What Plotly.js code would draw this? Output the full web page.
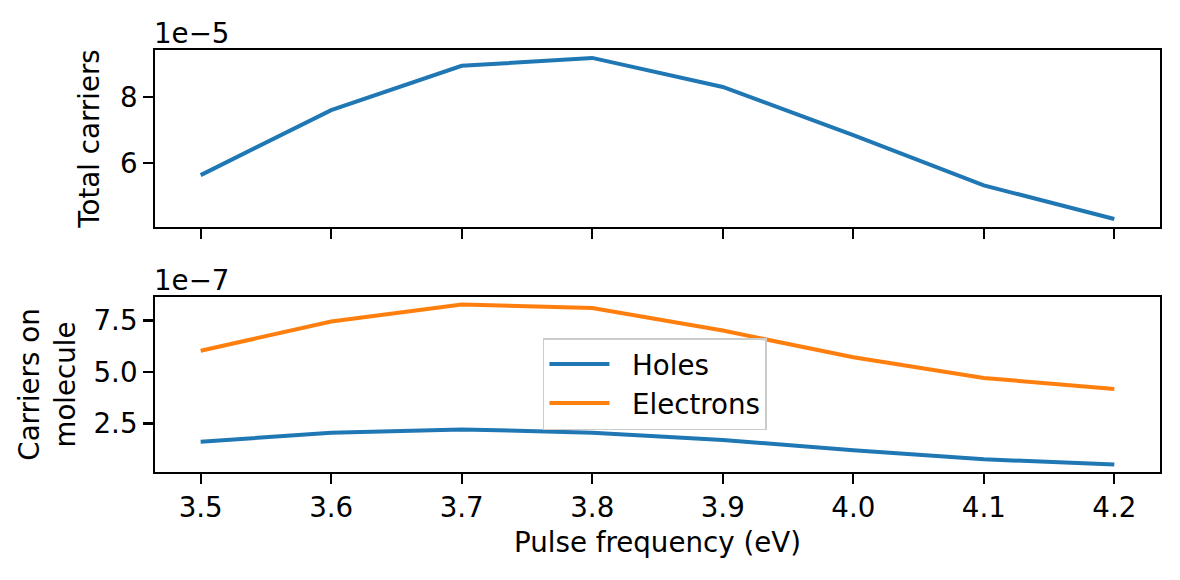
<!DOCTYPE html>
<html>
<head>
<meta charset="utf-8">
<script src="https://cdn.plot.ly/plotly-3.0.1.min.js"></script>
<style>html,body{margin:0;padding:0;background:#fff;}#chart{width:1180px;height:580px;}</style>
</head>
<body>
<div id="chart"></div>
<script>
// Pulse frequency (eV)
const frequency = [3.5, 3.6, 3.7, 3.8, 3.9, 4.0, 4.1, 4.2];
// Total carriers (absolute values, ~1e-5)
const totalCarriers = [5.64e-5, 7.61e-5, 8.95e-5, 9.19e-5, 8.31e-5, 6.85e-5, 5.33e-5, 4.31e-5];
// Carriers on molecule (~1e-7)
const holes = [1.61e-7, 2.05e-7, 2.21e-7, 2.05e-7, 1.70e-7, 1.20e-7, 0.76e-7, 0.50e-7];
const electrons = [6.03e-7, 7.45e-7, 8.28e-7, 8.11e-7, 7.01e-7, 5.71e-7, 4.71e-7, 4.17e-7];
// Series names
const seriesNames = ['Holes', 'Electrons'];
// Tick labels
const xTicks = [3.5, 3.6, 3.7, 3.8, 3.9, 4.0, 4.1, 4.2];
const xTickText = ['3.5', '3.6', '3.7', '3.8', '3.9', '4.0', '4.1', '4.2'];
const topTicks = [6e-5, 8e-5];
const topTickText = ['6', '8'];
const bottomTicks = [2.5e-7, 5.0e-7, 7.5e-7];
const bottomTickText = ['2.5', '5.0', '7.5'];

const FONT = 'DejaVu Sans, sans-serif';
const FS = 27.7;
const PAD = '\u00a0\u00a0';

const traces = [
  {x: frequency, y: totalCarriers, xaxis: 'x', yaxis: 'y', mode: 'lines',
   line: {color: '#1f77b4', width: 4}, showlegend: false, name: 'Total'},
  {x: frequency, y: holes, xaxis: 'x2', yaxis: 'y2', mode: 'lines',
   line: {color: '#1f77b4', width: 4}, name: PAD + seriesNames[0]},
  {x: frequency, y: electrons, xaxis: 'x2', yaxis: 'y2', mode: 'lines',
   line: {color: '#ff7f0e', width: 4}, name: PAD + seriesNames[1]}
];

const axisCommon = {
  showline: true, linecolor: '#000', linewidth: 2.2, mirror: true,
  ticks: 'outside', ticklen: 9.7, tickwidth: 2.2, tickcolor: '#000',
  showgrid: false, zeroline: false,
  tickfont: {family: FONT, size: FS, color: '#000'}
};

const layout = {
  width: 1180, height: 580,
  margin: {l: 155, r: 20, t: 50, b: 108},
  paper_bgcolor: '#fff', plot_bgcolor: '#fff',
  font: {family: FONT, size: FS, color: '#000'},
  xaxis: Object.assign({}, axisCommon, {
    domain: [0, 1], anchor: 'y', range: [3.465, 4.235],
    tickvals: xTicks, ticktext: xTickText, showticklabels: false, matches: 'x2'
  }),
  yaxis: Object.assign({}, axisCommon, {
    domain: [0.5806, 1], anchor: 'x', range: [4.07e-5, 9.43e-5],
    tickvals: topTicks, ticktext: topTickText,
    title: {text: 'Total carriers', font: {family: FONT, size: FS, color: '#000'}, standoff: 12}
  }),
  xaxis2: Object.assign({}, axisCommon, {
    domain: [0, 1], anchor: 'y2', range: [3.465, 4.235],
    tickvals: xTicks, ticktext: xTickText,
    title: {text: 'Pulse frequency (eV)', font: {family: FONT, size: FS, color: '#000'}, standoff: 10}
  }),
  yaxis2: Object.assign({}, axisCommon, {
    domain: [0, 0.4147], anchor: 'x2', range: [0.14e-7, 8.64e-7],
    tickvals: bottomTicks, ticktext: bottomTickText,
    title: {text: 'Carriers on<br>molecule', font: {family: FONT, size: FS, color: '#000'}, standoff: 10}
  }),
  legend: {
    x: 0.386, y: 0.3175, xanchor: 'left', yanchor: 'top',
    bgcolor: 'rgba(255,255,255,0.8)', bordercolor: '#cccccc', borderwidth: 1.5,
    font: {family: FONT, size: FS, color: '#000'}, itemwidth: 60,
    tracegroupgap: 0
  },
  annotations: [
    {text: '1e\u22125', xref: 'paper', yref: 'paper', x: 0, y: 1, xanchor: 'left', yanchor: 'bottom',
     showarrow: false, font: {family: FONT, size: FS, color: '#000'}, xshift: -3, yshift: -2},
    {text: '1e\u22127', xref: 'paper', yref: 'paper', x: 0, y: 0.4147, xanchor: 'left', yanchor: 'bottom',
     showarrow: false, font: {family: FONT, size: FS, color: '#000'}, xshift: -3, yshift: -2}
  ]
};

Plotly.newPlot('chart', traces, layout, {displayModeBar: false, staticPlot: true});
</script>
</body>
</html>
